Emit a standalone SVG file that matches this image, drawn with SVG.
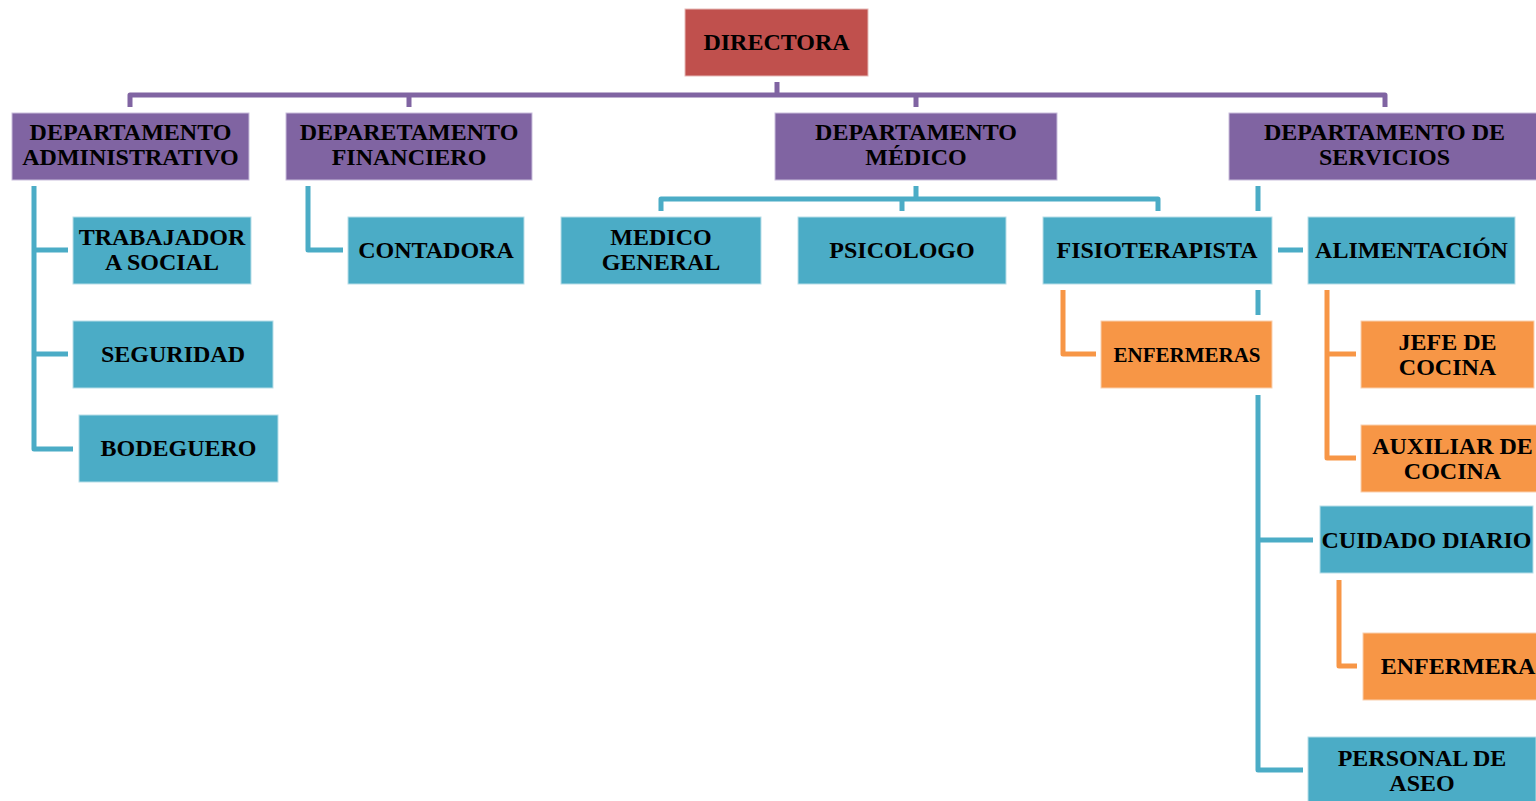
<svg xmlns="http://www.w3.org/2000/svg" width="1536" height="801" viewBox="0 0 1536 801">
<style>
.t{font-family:"Liberation Serif","Times New Roman",serif;font-weight:bold;font-size:24px;fill:#000;text-anchor:middle}
.red{fill:#C0504D;stroke:#E6B9B8;stroke-width:1}
.pur{fill:#8064A2;stroke:#C9BEDC;stroke-width:1}
.blu{fill:#4BACC6;stroke:#B7DEE8;stroke-width:1}
.org{fill:#F79646;stroke:#FAD0AE;stroke-width:1}
.c{fill:none;stroke-width:5;stroke-linejoin:round}
.cp{stroke:#8064A2}.cb{stroke:#4BACC6}.co{stroke:#F79646}
</style>
<rect width="1536" height="801" fill="#fff"/>
<g id="connectors">
<path class="c cp" d="M777,82 V95 M130,107 V95 H1385 V107 M409,95 V107 M916,95 V107"/>
<path class="c cb" d="M34,186 V449 H73 M34,250 H68 M34,354 H68"/>
<path class="c cb" d="M308,186 V250 H343"/>
<path class="c cb" d="M916,186 V199 M661,211 V199 H1158 V211 M902,199 V211"/>
<path class="c cb" d="M1258,186 V211 M1258,290 V315 M1258,395 V770 H1303 M1278,250 H1303 M1258,540 H1313"/>
<path class="c co" d="M1063,290 V354 H1096"/>
<path class="c co" d="M1327,290 V458 H1356 M1327,354 H1356"/>
<path class="c co" d="M1339,580 V666 H1357"/>
</g>
<g id="directora"><rect class="red" x="685" y="9" width="183" height="67"/><text class="t" x="776.5" y="50">DIRECTORA</text></g>
<g id="dep-admin"><rect class="pur" x="12" y="113" width="237" height="67"/><text class="t" x="130.5" y="140">DEPARTAMENTO</text><text class="t" x="130.5" y="165">ADMINISTRATIVO</text></g>
<g id="dep-fin"><rect class="pur" x="286" y="113" width="246" height="67"/><text class="t" x="409" y="140">DEPARETAMENTO</text><text class="t" x="409" y="165">FINANCIERO</text></g>
<g id="dep-med"><rect class="pur" x="775" y="113" width="282" height="67"/><text class="t" x="916" y="140">DEPARTAMENTO</text><text class="t" x="916" y="165">MÉDICO</text></g>
<g id="dep-serv"><rect class="pur" x="1229" y="113" width="311" height="67"/><text class="t" x="1384.5" y="140">DEPARTAMENTO DE</text><text class="t" x="1384.5" y="165">SERVICIOS</text></g>
<g id="trabajador"><rect class="blu" x="73" y="217" width="178" height="67"/><text class="t" x="162" y="245">TRABAJADOR</text><text class="t" x="162" y="270">A SOCIAL</text></g>
<g id="seguridad"><rect class="blu" x="73" y="321" width="200" height="67"/><text class="t" x="173" y="362">SEGURIDAD</text></g>
<g id="bodeguero"><rect class="blu" x="79" y="415" width="199" height="67"/><text class="t" x="178.5" y="456">BODEGUERO</text></g>
<g id="contadora"><rect class="blu" x="348" y="217" width="176" height="67"/><text class="t" x="436" y="258">CONTADORA</text></g>
<g id="medico-general"><rect class="blu" x="561" y="217" width="200" height="67"/><text class="t" x="661" y="245">MEDICO</text><text class="t" x="661" y="270">GENERAL</text></g>
<g id="psicologo"><rect class="blu" x="798" y="217" width="208" height="67"/><text class="t" x="902" y="258">PSICOLOGO</text></g>
<g id="fisioterapista"><rect class="blu" x="1043" y="217" width="229" height="67"/><text class="t" x="1157" y="258">FISIOTERAPISTA</text></g>
<g id="alimentacion"><rect class="blu" x="1308" y="217" width="207" height="67"/><text class="t" x="1411.5" y="258">ALIMENTACIÓN</text></g>
<g id="enfermeras"><rect class="org" x="1101" y="321" width="171" height="67"/><text class="t" x="1187" y="362" style="font-size:21px">ENFERMERAS</text></g>
<g id="jefe-cocina"><rect class="org" x="1361" y="321" width="173" height="67"/><text class="t" x="1447.5" y="350">JEFE DE</text><text class="t" x="1447.5" y="375">COCINA</text></g>
<g id="auxiliar-cocina"><rect class="org" x="1361" y="425" width="183" height="67"/><text class="t" x="1452.5" y="454">AUXILIAR DE</text><text class="t" x="1452.5" y="479">COCINA</text></g>
<g id="cuidado-diario"><rect class="blu" x="1320" y="506" width="213" height="67"/><text class="t" x="1426.5" y="548">CUIDADO DIARIO</text></g>
<g id="enfermera"><rect class="org" x="1363" y="633" width="190" height="67"/><text class="t" x="1458" y="674">ENFERMERA</text></g>
<g id="personal-aseo"><rect class="blu" x="1308" y="737" width="228" height="67"/><text class="t" x="1422" y="766">PERSONAL DE</text><text class="t" x="1422" y="791">ASEO</text></g>
</svg>
